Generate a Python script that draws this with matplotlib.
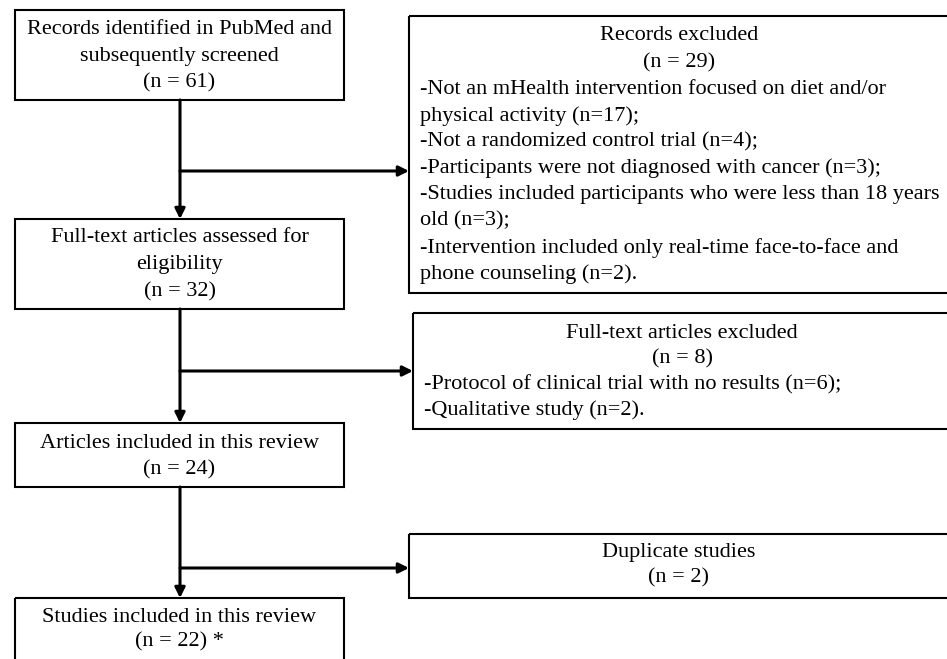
import matplotlib.pyplot as plt
from matplotlib.patches import Rectangle

plt.rcParams['font.family'] = ['Liberation Serif', 'DejaVu Serif']

# Flow data
main_titles = [["Records identified in PubMed and", "subsequently screened"],
               ["Full-text articles assessed for", "eligibility"],
               ["Articles included in this review"],
               ["Studies included in this review"]]
main_counts = [61, 32, 24, 22]
main_suffix = ["", "", "", " *"]

excl_titles = ["Records excluded", "Full-text articles excluded", "Duplicate studies"]
excl_counts = [29, 8, 2]
excl_reasons = [
    ["-Not an mHealth intervention focused on diet and/or",
     "physical activity (n=17);",
     "-Not a randomized control trial (n=4);",
     "-Participants were not diagnosed with cancer (n=3);",
     "-Studies included participants who were less than 18 years",
     "old (n=3);",
     "-Intervention included only real-time face-to-face and",
     "phone counseling (n=2)."],
    ["-Protocol of clinical trial with no results (n=6);",
     "-Qualitative study (n=2)."],
    [],
]

# Layout (pixels, y down)
main_boxes = [(15, 10, 329, 90), (15, 219, 329, 90), (15, 423, 329, 64), (15, 598, 329, 80)]
main_line_y = [[29, 56, 83], [238, 265, 292], [443, 470], [618, 642]]
excl_boxes = [(409, 16, 545, 277), (413, 313, 545, 116), (409, 534, 545, 64)]
excl_head_x = [679, 682, 679]
excl_head_y = [[36, 63], [333, 359], [553, 578]]
excl_reason_x = [420, 424, 420]
excl_reason_y = [[89, 116, 142, 168, 195, 221, 248, 274], [385, 410], []]
branch_y = [171, 371, 568]
x_main = 180
fs = 16

fig = plt.figure(figsize=(9.47, 6.59), dpi=100)
ax = fig.add_axes([0, 0, 1, 1])
ax.set_xlim(0, 947)
ax.set_ylim(659, 0)
ax.axis('off')

for (x, y, w, h), lines, ly, n, suf in zip(main_boxes, main_titles, main_line_y,
                                            main_counts, main_suffix):
    ax.add_patch(Rectangle((x, y), w, h, fill=False, ec='black', lw=1.5))
    texts = lines + [f"(n = {n}){suf}"]
    for t, yy in zip(texts, ly):
        ax.text(x + w / 2, yy, t, ha='center', va='center', fontsize=fs)

for (x, y, w, h), title, n, reasons, hx, hy, rx, ry in zip(
        excl_boxes, excl_titles, excl_counts, excl_reasons,
        excl_head_x, excl_head_y, excl_reason_x, excl_reason_y):
    ax.add_patch(Rectangle((x, y), w, h, fill=False, ec='black', lw=1.5))
    ax.text(hx, hy[0], title, ha='center', va='center', fontsize=fs)
    ax.text(hx, hy[1], f"(n = {n})", ha='center', va='center', fontsize=fs)
    for t, yy in zip(reasons, ry):
        ax.text(rx, yy, t, ha='left', va='center', fontsize=fs)

arrow = dict(arrowstyle='-|>,head_length=0.6,head_width=0.3', color='black', lw=2.2,
             shrinkA=0, shrinkB=0)

# vertical arrows between main boxes
for (x0, y0, w0, h0), (x1, y1, w1, h1) in zip(main_boxes[:-1], main_boxes[1:]):
    ax.annotate('', xy=(x_main, y1), xytext=(x_main, y0 + h0), arrowprops=arrow)

# branch arrows to exclusion boxes
for by, (x, y, w, h) in zip(branch_y, excl_boxes):
    ax.annotate('', xy=(x, by), xytext=(x_main, by), arrowprops=arrow)

fig.savefig('out.png', dpi=100)
